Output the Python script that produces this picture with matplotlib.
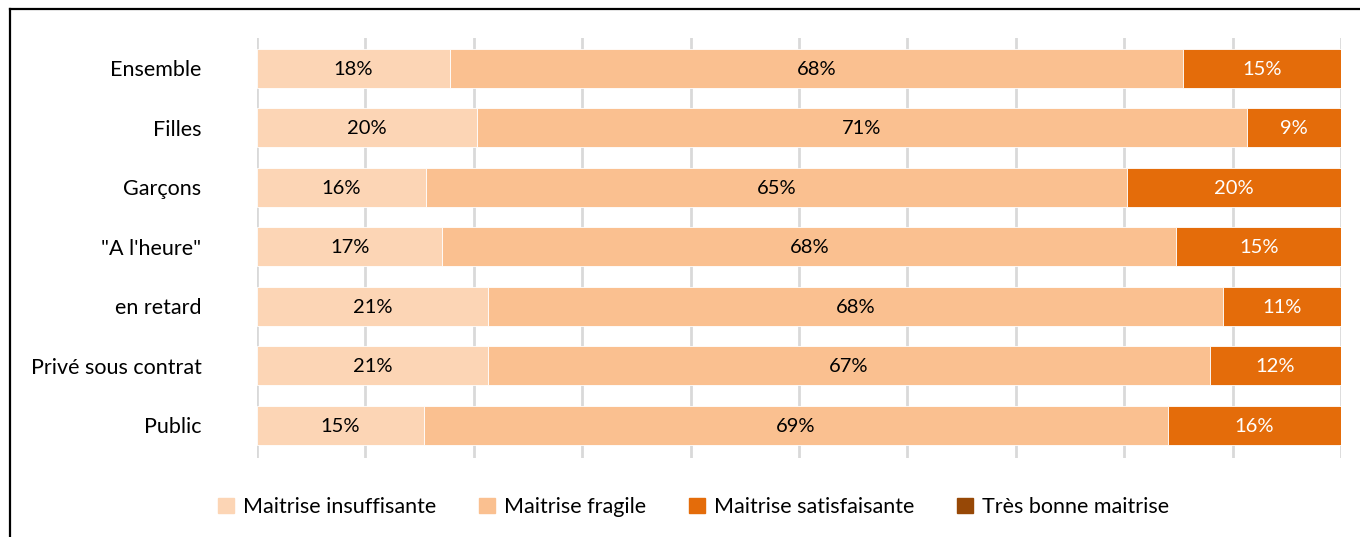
import matplotlib
matplotlib.use('Agg')
import matplotlib.pyplot as plt
from matplotlib.patches import Rectangle
from matplotlib.lines import Line2D
import numpy as np

plt.rcParams['font.family'] = ['Lato', 'DejaVu Sans']

groups = ['Ensemble', 'Filles', 'Garçons', '"A l\'heure"', 'en retard',
          'Privé sous contrat', 'Public']
levels = ['Maitrise insuffisante', 'Maitrise fragile',
          'Maitrise satisfaisante', 'Très bonne maitrise']

insuffisante = [17.8, 20.3, 15.6, 17.1, 21.3, 21.3, 15.4]
fragile = [67.6, 71.0, 64.7, 67.7, 67.8, 66.6, 68.6]
satisfaisante = [14.6, 8.7, 19.7, 15.2, 10.9, 12.1, 16.0]
tres_bonne = [0, 0, 0, 0, 0, 0, 0]

colors = ['#FCD5B5', '#FAC090', '#E46C0A', '#974806']
text_colors = ['black', 'black', 'white', 'white']

fig = plt.figure(figsize=(13.6, 5.37), dpi=100)
ax = fig.add_axes([257 / 1360, 1 - 458 / 537, (1341 - 257) / 1360, (458 - 38) / 537])

y = np.arange(len(groups))
left = np.zeros(len(groups))
series = [insuffisante, fragile, satisfaisante, tres_bonne]
for vals, col, tcol, lab in zip(series, colors, text_colors, levels):
    vals = np.array(vals, dtype=float)
    ax.barh(y, vals, left=left, height=0.655, color=col, label=lab,
            edgecolor='white', linewidth=0.6, zorder=3)
    for yi, (l, v) in enumerate(zip(left, vals)):
        if v > 0:
            ax.text(l + v / 2, yi + 0.02, f'{v:.0f}%', ha='center', va='center',
                    fontsize=14.5, color=tcol, zorder=4)
    left += vals

ax.set_xlim(0, 100)
ax.set_ylim(6.55, -0.505)
ax.set_xticks(np.arange(0, 101, 10))
ax.set_xticklabels([])
ax.tick_params(axis='x', length=0)
ax.tick_params(axis='y', length=0, pad=40, labelsize=15.5)
ax.set_yticks(y)
ax.set_yticklabels(groups)
ax.grid(axis='x', color='#D9D9D9', linewidth=2, zorder=0)
for s in ax.spines.values():
    s.set_visible(False)

handles = [Rectangle((0, 0), 1, 1, color=c) for c in colors]
fig.legend(handles, levels, loc='center', bbox_to_anchor=(0.51, 1 - 507 / 537),
           ncol=4, frameon=False, fontsize=15.5, handlelength=0.75, handleheight=0.75,
           handletextpad=0.4, columnspacing=2.0)

# outer frame
fig.add_artist(Line2D([10 / 1360, 10 / 1360], [0, 1 - 9 / 537], color='black',
                      linewidth=1.6, transform=fig.transFigure))
fig.add_artist(Line2D([10 / 1360, 1], [1 - 9 / 537, 1 - 9 / 537], color='black',
                      linewidth=1.6, transform=fig.transFigure))

fig.savefig('out.png', dpi=100)
